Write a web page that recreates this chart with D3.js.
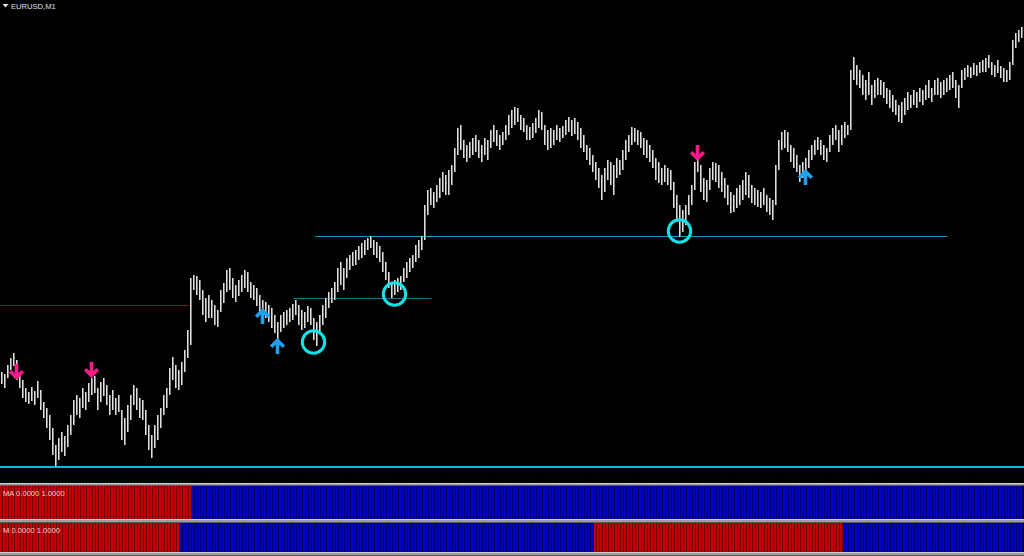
<!DOCTYPE html>
<html>
<head>
<meta charset="utf-8">
<script src="https://cdn.jsdelivr.net/npm/d3@7"></script>
<style>
  html, body { margin: 0; padding: 0; background: #000; overflow: hidden; }
  svg { display: block; }
</style>
</head>
<body>
<svg id="chart" width="1024" height="556"></svg>
<script>
// ---- data -----------------------------------------------------------
const symbolLabel = "EURUSD,M1";

// bar highs / lows, one per minute
const highs = [
  1.08628,1.08626,1.08635,1.08642,1.08647,1.08640,1.08628,1.08620,1.08612,1.08608,
  1.08613,1.08609,1.08619,1.08610,1.08598,1.08592,1.08585,1.08572,1.08555,1.08562,
  1.08568,1.08564,1.08575,1.08585,1.08600,1.08605,1.08602,1.08612,1.08608,1.08617,
  1.08622,1.08624,1.08612,1.08618,1.08622,1.08615,1.08605,1.08610,1.08602,1.08605,
  1.08590,1.08582,1.08595,1.08605,1.08615,1.08612,1.08602,1.08600,1.08590,1.08575,
  1.08565,1.08575,1.08585,1.08592,1.08605,1.08612,1.08632,1.08643,1.08635,1.08630,
  1.08638,1.08650,1.08670,1.08722,1.08725,1.08724,1.08720,1.08710,1.08702,1.08705,
  1.08700,1.08695,1.08690,1.08710,1.08717,1.08730,1.08732,1.08722,1.08715,1.08720,
  1.08725,1.08730,1.08728,1.08718,1.08715,1.08712,1.08705,1.08700,1.08698,1.08695,
  1.08692,1.08685,1.08678,1.08685,1.08688,1.08690,1.08692,1.08696,1.08700,1.08695,
  1.08690,1.08688,1.08694,1.08692,1.08682,1.08678,1.08685,1.08695,1.08702,1.08708,
  1.08712,1.08718,1.08732,1.08738,1.08732,1.08742,1.08745,1.08748,1.08750,1.08754,
  1.08757,1.08760,1.08762,1.08764,1.08760,1.08758,1.08754,1.08748,1.08738,1.08728,
  1.08718,1.08720,1.08722,1.08724,1.08732,1.08738,1.08742,1.08745,1.08755,1.08760,
  1.08764,1.08795,1.08810,1.08812,1.08808,1.08815,1.08822,1.08828,1.08825,1.08830,
  1.08835,1.08852,1.08872,1.08875,1.08860,1.08855,1.08858,1.08862,1.08865,1.08860,
  1.08855,1.08862,1.08860,1.08870,1.08875,1.08870,1.08865,1.08868,1.08875,1.08885,
  1.08890,1.08893,1.08892,1.08885,1.08882,1.08875,1.08873,1.08877,1.08882,1.08890,
  1.08888,1.08875,1.08870,1.08872,1.08870,1.08875,1.08872,1.08874,1.08880,1.08883,
  1.08880,1.08882,1.08878,1.08872,1.08865,1.08855,1.08852,1.08845,1.08838,1.08832,
  1.08825,1.08832,1.08840,1.08838,1.08835,1.08842,1.08840,1.08850,1.08860,1.08865,
  1.08873,1.08872,1.08870,1.08868,1.08862,1.08860,1.08855,1.08850,1.08842,1.08838,
  1.08832,1.08835,1.08832,1.08830,1.08818,1.08805,1.08795,1.08790,1.08795,1.08805,
  1.08815,1.08838,1.08842,1.08835,1.08822,1.08820,1.08832,1.08838,1.08837,1.08835,
  1.08828,1.08822,1.08815,1.08808,1.08805,1.08812,1.08815,1.08820,1.08828,1.08825,
  1.08815,1.08812,1.08810,1.08808,1.08812,1.08805,1.08802,1.08800,1.08835,1.08860,
  1.08868,1.08870,1.08868,1.08855,1.08852,1.08845,1.08835,1.08838,1.08842,1.08850,
  1.08855,1.08860,1.08863,1.08860,1.08855,1.08852,1.08865,1.08872,1.08875,1.08870,
  1.08875,1.08878,1.08875,1.08930,1.08943,1.08935,1.08930,1.08925,1.08920,1.08928,
  1.08915,1.08920,1.08922,1.08920,1.08918,1.08912,1.08910,1.08905,1.08900,1.08895,
  1.08898,1.08902,1.08908,1.08905,1.08910,1.08908,1.08912,1.08910,1.08915,1.08920,
  1.08912,1.08920,1.08922,1.08918,1.08920,1.08922,1.08925,1.08928,1.08920,1.08915,
  1.08930,1.08932,1.08935,1.08933,1.08937,1.08935,1.08938,1.08940,1.08942,1.08945,
  1.08938,1.08935,1.08940,1.08934,1.08932,1.08930,1.08938,1.08960,1.08967,1.08970,
  1.08973
];
const lows = [
  1.08616,1.08612,1.08622,1.08630,1.08634,1.08620,1.08612,1.08602,1.08598,1.08596,
  1.08599,1.08595,1.08602,1.08590,1.08582,1.08572,1.08560,1.08545,1.08533,1.08540,
  1.08548,1.08544,1.08553,1.08565,1.08575,1.08585,1.08582,1.08592,1.08590,1.08598,
  1.08605,1.08607,1.08590,1.08598,1.08604,1.08595,1.08585,1.08590,1.08585,1.08588,
  1.08560,1.08555,1.08568,1.08580,1.08595,1.08590,1.08582,1.08580,1.08565,1.08550,
  1.08542,1.08552,1.08560,1.08572,1.08585,1.08592,1.08605,1.08620,1.08612,1.08610,
  1.08615,1.08628,1.08642,1.08655,1.08710,1.08705,1.08700,1.08685,1.08678,1.08682,
  1.08682,1.08675,1.08673,1.08688,1.08697,1.08708,1.08710,1.08702,1.08698,1.08704,
  1.08708,1.08712,1.08708,1.08702,1.08700,1.08694,1.08688,1.08680,1.08682,1.08678,
  1.08672,1.08667,1.08660,1.08668,1.08672,1.08675,1.08678,1.08680,1.08685,1.08675,
  1.08670,1.08672,1.08678,1.08675,1.08660,1.08654,1.08668,1.08675,1.08682,1.08692,
  1.08697,1.08700,1.08708,1.08715,1.08710,1.08722,1.08730,1.08734,1.08735,1.08740,
  1.08742,1.08745,1.08750,1.08752,1.08745,1.08742,1.08738,1.08728,1.08720,1.08712,
  1.08702,1.08705,1.08708,1.08710,1.08718,1.08722,1.08728,1.08732,1.08738,1.08742,
  1.08750,1.08760,1.08785,1.08795,1.08792,1.08798,1.08802,1.08808,1.08805,1.08805,
  1.08815,1.08828,1.08845,1.08850,1.08842,1.08838,1.08842,1.08845,1.08848,1.08842,
  1.08838,1.08845,1.08840,1.08852,1.08858,1.08854,1.08850,1.08855,1.08860,1.08865,
  1.08872,1.08875,1.08878,1.08870,1.08868,1.08860,1.08860,1.08862,1.08867,1.08872,
  1.08870,1.08855,1.08850,1.08852,1.08855,1.08860,1.08858,1.08862,1.08865,1.08868,
  1.08864,1.08866,1.08860,1.08852,1.08848,1.08840,1.08835,1.08828,1.08820,1.08812,
  1.08800,1.08808,1.08820,1.08815,1.08805,1.08822,1.08825,1.08830,1.08840,1.08848,
  1.08855,1.08858,1.08855,1.08852,1.08845,1.08842,1.08838,1.08832,1.08820,1.08817,
  1.08815,1.08818,1.08815,1.08810,1.08792,1.08778,1.08763,1.08768,1.08775,1.08785,
  1.08795,1.08810,1.08828,1.08808,1.08800,1.08798,1.08810,1.08820,1.08818,1.08812,
  1.08808,1.08802,1.08795,1.08787,1.08788,1.08792,1.08795,1.08800,1.08805,1.08802,
  1.08797,1.08795,1.08793,1.08792,1.08795,1.08788,1.08785,1.08780,1.08795,1.08830,
  1.08850,1.08852,1.08848,1.08838,1.08832,1.08828,1.08818,1.08822,1.08825,1.08832,
  1.08840,1.08845,1.08850,1.08845,1.08840,1.08838,1.08848,1.08855,1.08860,1.08848,
  1.08855,1.08862,1.08865,1.08870,1.08920,1.08915,1.08912,1.08905,1.08900,1.08905,
  1.08895,1.08902,1.08905,1.08905,1.08902,1.08896,1.08892,1.08888,1.08885,1.08878,
  1.08877,1.08885,1.08890,1.08892,1.08895,1.08892,1.08898,1.08895,1.08900,1.08902,
  1.08898,1.08905,1.08905,1.08902,1.08905,1.08908,1.08910,1.08912,1.08902,1.08892,
  1.08912,1.08920,1.08923,1.08922,1.08925,1.08924,1.08927,1.08928,1.08928,1.08932,
  1.08925,1.08923,1.08927,1.08922,1.08918,1.08918,1.08920,1.08935,1.08952,1.08958,
  1.08962
];

// signal arrows: bar index and price at the arrow tip
const sellArrowBars = [5, 30, 232];
const sellArrowPrices = [1.08621, 1.08623, 1.08840];
const buyArrowBars = [87, 92, 268];
const buyArrowPrices = [1.08691, 1.08661, 1.08830];

// marked swing lows
const circleBars = [104, 131, 226];
const circlePrices = [1.08658, 1.08706, 1.08769];

// horizontal levels (red, lower teal, upper teal)
const levelPrices = [1.08694, 1.08701, 1.08764];
const levelStartBars = [0, 98, 105];
const levelEndBars = [62, 143, 315];

// session low line
const supportPrice = 1.08533;

// indicator panels: run lengths of bars and their state (1 = red, 0 = blue)
const maRunLengths = [64, 277];
const maRunStates = [1, 0];
const mRunLengths = [60, 138, 83, 60];
const mRunStates = [1, 0, 1, 0];
const indicatorNames = ["MA", "M"];
const indicatorBounds = [0, 1];

// ---- drawing --------------------------------------------------------
const W = 1024, H = 556;
const svg = d3.select("#chart");
svg.append("rect").attr("width", W).attr("height", H).attr("fill", "#000");

const x = d3.scaleLinear().domain([0, highs.length - 1]).range([1.5, 1021.5]);
const y = d3.scaleLinear().domain([1.08530, 1.09000]).range([470, 0]);
const crisp = v => Math.floor(v) + 0.5;

const main = svg.append("g");

// horizontal levels
const levelColors = ["#8e1414", "#1b7391", "#1f92c4"];
main.selectAll("line.level")
  .data(levelPrices)
  .join("line")
  .attr("class", "level")
  .attr("x1", (d, i) => levelStartBars[i] === 0 ? 0 : x(levelStartBars[i]) - 1.5)
  .attr("x2", (d, i) => x(levelEndBars[i]) + 1)
  .attr("y1", d => crisp(y(d)))
  .attr("y2", d => crisp(y(d)))
  .attr("stroke", (d, i) => levelColors[i])
  .attr("stroke-width", 1);

// price bars: a bright high-low stroke with a grey shadow column
const bars = d3.range(highs.length).map(i => ({ i, h: highs[i], l: lows[i] }));
main.selectAll("rect.bar")
  .data(bars)
  .join("rect")
  .attr("class", "bar")
  .attr("x", d => x(d.i) - 0.5)
  .attr("width", 2)
  .attr("y", d => y(d.h))
  .attr("height", d => Math.max(1, y(d.l) - y(d.h)))
  .attr("fill", "#808080");
main.selectAll("line.barhl")
  .data(bars)
  .join("line")
  .attr("class", "barhl")
  .attr("x1", d => x(d.i))
  .attr("x2", d => x(d.i))
  .attr("y1", d => y(d.h))
  .attr("y2", d => y(d.l))
  .attr("stroke", "#dedede")
  .attr("stroke-width", 1);

// session low line
main.append("line")
  .attr("x1", 0).attr("x2", W)
  .attr("y1", y(supportPrice)).attr("y2", y(supportPrice))
  .attr("stroke", "#1aaee8")
  .attr("stroke-width", 2.2);

// circles round swing lows
main.selectAll("circle.mark")
  .data(circleBars)
  .join("circle")
  .attr("class", "mark")
  .attr("cx", d => x(d))
  .attr("cy", (d, i) => y(circlePrices[i]))
  .attr("r", 11.2)
  .attr("fill", "none")
  .attr("stroke", "#14e2e6")
  .attr("stroke-width", 3);

// arrows
function arrowPath(cx, tip, dir) {
  // dir = 1 points down (tip at bottom), -1 points up (tip at top)
  const len = 15, head = 6.3;
  const tail = tip - dir * len;
  return `M${cx},${tail} L${cx},${tip - dir * 1.5}` +
         ` M${cx - head},${tip - dir * (head + 1.5)} L${cx},${tip - dir * 1.5} L${cx + head},${tip - dir * (head + 1.5)}`;
}
main.selectAll("path.sell")
  .data(sellArrowBars)
  .join("path")
  .attr("class", "sell")
  .attr("d", (d, i) => arrowPath(x(d), y(sellArrowPrices[i]), 1))
  .attr("fill", "none")
  .attr("stroke", "#ff1a8c")
  .attr("stroke-width", 3.6)
  .attr("stroke-linejoin", "miter");
main.selectAll("path.buy")
  .data(buyArrowBars)
  .join("path")
  .attr("class", "buy")
  .attr("d", (d, i) => arrowPath(x(d), y(buyArrowPrices[i]), -1))
  .attr("fill", "none")
  .attr("stroke", "#1ea2f0")
  .attr("stroke-width", 3.6)
  .attr("stroke-linejoin", "miter");

// symbol caption
main.append("path")
  .attr("d", "M2.5,4 L8.5,4 L5.5,7.5 Z")
  .attr("fill", "#e8e8e8");
main.append("text")
  .attr("x", 11).attr("y", 8.5)
  .attr("fill", "#e0e0e0")
  .attr("font-family", "'Liberation Sans', Arial, sans-serif")
  .attr("font-size", "7.6px")
  .text(symbolLabel);

// ---- indicator panels ----------------------------------------------
function expandRuns(lengths, states) {
  const out = [];
  lengths.forEach((n, k) => { for (let j = 0; j < n; j++) out.push(states[k]); });
  return out;
}

function separator(top, h) {
  svg.append("rect").attr("x", 0).attr("y", top).attr("width", W).attr("height", h).attr("fill", "#9c9c9c");
  svg.append("rect").attr("x", 0).attr("y", top).attr("width", W).attr("height", 1).attr("fill", "#cfcfcf");
  svg.append("rect").attr("x", 0).attr("y", top + h - 1).attr("width", W).attr("height", 1).attr("fill", "#5a5a5a");
}

const panels = [
  { name: indicatorNames[0], states: expandRuns(maRunLengths, maRunStates), top: 486, bottom: 519 },
  { name: indicatorNames[1], states: expandRuns(mRunLengths, mRunStates), top: 523, bottom: 552 }
];

separator(483, 3);
separator(519, 4);
separator(552, 4);

const bright = { 1: "#c40000", 0: "#0000bc" };
const dark = { 1: "#6a0000", 0: "#00006a" };

panels.forEach(p => {
  const py = d3.scaleLinear().domain(indicatorBounds).range([p.bottom, p.top]);
  const g = svg.append("g");
  g.append("rect").attr("x", 0).attr("y", p.top).attr("width", W).attr("height", p.bottom - p.top).attr("fill", "#000");
  const data = p.states.map((s, i) => ({ i, s, v: 1 }));
  g.selectAll("rect.back")
    .data(data)
    .join("rect")
    .attr("class", "back")
    .attr("x", d => x(d.i) - 1.5)
    .attr("width", 3)
    .attr("y", d => py(d.v))
    .attr("height", d => py(0) - py(d.v))
    .attr("fill", d => dark[d.s]);
  g.selectAll("rect.col")
    .data(data)
    .join("rect")
    .attr("class", "col")
    .attr("x", d => x(d.i) - 1.5)
    .attr("width", 2)
    .attr("y", d => py(d.v))
    .attr("height", d => py(0) - py(d.v))
    .attr("fill", d => bright[d.s]);
  g.append("text")
    .attr("x", 3).attr("y", p.top + 9.5)
    .attr("fill", "#e6dede")
    .attr("font-family", "'Liberation Sans', Arial, sans-serif")
    .attr("font-size", "7.6px")
    .text(`${p.name} ${indicatorBounds[0].toFixed(4)} ${indicatorBounds[1].toFixed(4)}`);
});
</script>
</body>
</html>
